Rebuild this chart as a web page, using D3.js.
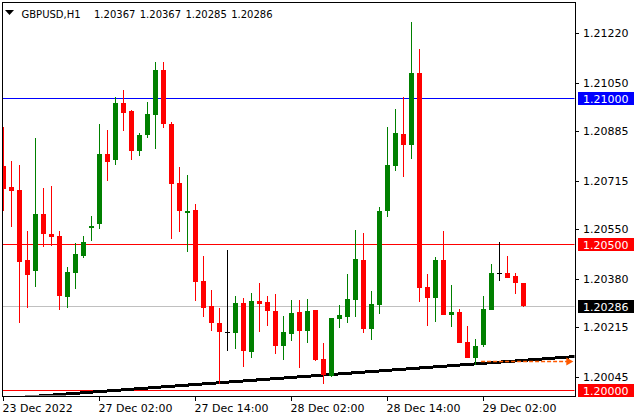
<!DOCTYPE html>
<html><head><meta charset="utf-8">
<script src="https://cdn.jsdelivr.net/npm/d3@7"></script>
<style>html,body{margin:0;padding:0;background:#fff;} svg{display:block;font-family:"DejaVu Sans",sans-serif;}</style>
</head><body><svg id="c" width="640" height="420"></svg>
<script>
const symbol = "GBPUSD,H1";
const quote = [1.20367, 1.20367, 1.20285, 1.20286];
const open = [1.20766,1.20695,1.20684,1.20444,1.20408,1.20602,1.20533,1.20526,1.20319,1.20401,
1.20459,1.20555,1.20569,1.20807,1.20788,1.20982,1.20954,1.20818,1.20873,1.20940,
1.21094,1.20910,1.20708,1.20605,1.20615,1.20373,1.20287,1.20229,1.20199,1.20196,
1.20297,1.20130,1.20304,1.20301,1.20270,1.20151,1.20192,1.20266,1.20202,1.20273,
1.20106,1.20048,1.20243,1.20250,1.20308,1.20444,1.20209,1.20291,1.20613,1.20767,
1.20875,1.20839,1.21084,1.20352,1.20315,1.20444,1.20257,1.20266,1.20164,1.20110,
1.20154,1.20274,1.20399,1.20400,1.20390,1.20367];
const close = [1.20688,1.20681,1.20438,1.20393,1.20602,1.20534,1.20524,1.20322,1.20403,1.20465,
1.20506,1.20561,1.20807,1.20781,1.20982,1.20948,1.20818,1.20872,1.20944,1.21094,
1.20911,1.20705,1.20613,1.20612,1.20370,1.20281,1.20230,1.20199,1.20199,1.20297,
1.20134,1.20304,1.20295,1.20271,1.20151,1.20198,1.20263,1.20202,1.20270,1.20103,
1.20052,1.20246,1.20256,1.20311,1.20448,1.20209,1.20294,1.20612,1.20769,1.20879,
1.20839,1.21084,1.20350,1.20315,1.20444,1.20257,1.20266,1.20161,1.20110,1.20150,
1.20277,1.20400,1.20399,1.20384,1.20367,1.20286];
const high = [1.20900,1.20784,1.20769,1.20544,1.20862,1.20691,1.20698,1.20544,1.20421,1.20501,
1.20526,1.20595,1.20910,1.20889,1.21001,1.21026,1.20958,1.20879,1.20985,1.21122,
1.21122,1.20917,1.20764,1.20735,1.20636,1.20458,1.20342,1.20281,1.20479,1.20321,
1.20315,1.20332,1.20367,1.20322,1.20329,1.20254,1.20308,1.20308,1.20312,1.20273,
1.20160,1.20246,1.20290,1.20397,1.20547,1.20537,1.20339,1.20626,1.20899,1.20961,
1.21001,1.21259,1.21166,1.20396,1.20455,1.20545,1.20359,1.20278,1.20220,1.20175,
1.20322,1.20431,1.20507,1.20459,1.20400,1.20367];
const low = [1.20613,1.20558,1.20228,1.20281,1.20353,1.20490,1.20493,1.20274,1.20281,1.20346,
1.20452,1.20510,1.20551,1.20716,1.20770,1.20887,1.20788,1.20801,1.20863,1.20824,
1.20897,1.20517,1.20541,1.20473,1.20305,1.20250,1.20202,1.20019,1.20134,1.20141,
1.20079,1.20110,1.20199,1.20220,1.20124,1.20103,1.20168,1.20076,1.20161,1.20100,
1.20019,1.20045,1.20213,1.20230,1.20250,1.20196,1.20172,1.20261,1.20592,1.20750,
1.20729,1.20791,1.20302,1.20220,1.20233,1.20257,1.20216,1.20161,1.20110,1.20086,
1.20148,1.20274,1.20373,1.20384,1.20329,1.20285];
const timeTickIndex = [0, 12, 24, 36, 48, 60];
const timeTickLabels = ["23 Dec 2022","27 Dec 02:00","27 Dec 14:00","28 Dec 02:00","28 Dec 14:00","29 Dec 02:00"];
const priceTicks = [1.21220,1.21050,1.20885,1.20715,1.20550,1.20380,1.20215,1.20045];
const levelPrices = [1.21000, 1.20500, 1.20286, 1.20000];
const levelKinds = ["blue","red","bid","red"];
const trendIndex = [0, 71.5];
const trendPrice = [1.19970, 1.20114];
const arrowIndex = [59.7, 71.1];
const arrowPrice = 1.20100;

const svg = d3.select("#c");
const L = 2, T = 2, R = 575, B = 396;
const x = d3.scaleLinear().domain([0, 65]).range([3.5, 523.5]);
const y = d3.scaleLinear().domain([1.21220, 1.20045]).range([33.3, 376.7]);

svg.append("defs").append("clipPath").attr("id","pc")
  .append("rect").attr("x",L+0.5).attr("y",T+0.5).attr("width",R-L-1).attr("height",B-T-1);

const plot = svg.append("g").attr("clip-path","url(#pc)");

const lineColor = {blue:"#0000ff", red:"#ff0000", bid:"#c0c0c0"};
const boxColor = {blue:"#0000ff", red:"#ff0000", bid:"#000000"};

// horizontal levels
plot.selectAll("line.lvl").data(levelPrices).join("line").attr("class","lvl")
  .attr("x1",L).attr("x2",R)
  .attr("y1",d=>Math.round(y(d))+0.5).attr("y2",d=>Math.round(y(d))+0.5)
  .attr("stroke",(d,i)=>lineColor[levelKinds[i]]).attr("stroke-width",1);

// trend line
plot.append("line")
  .attr("x1",x(trendIndex[0])).attr("y1",y(trendPrice[0]))
  .attr("x2",x(trendIndex[1])).attr("y2",y(trendPrice[1]))
  .attr("stroke","#000").attr("stroke-width",3).attr("shape-rendering","crispEdges");

// orange dashed arrow
const ay = Math.round(y(arrowPrice))+0.5;
plot.append("line").attr("x1",x(arrowIndex[0])).attr("x2",x(arrowIndex[1])-4)
  .attr("y1",ay).attr("y2",ay).attr("stroke","#ff5a00").attr("stroke-width",1.5)
  .attr("stroke-dasharray","4,2");
const ax = x(arrowIndex[1]);
plot.append("path").attr("d",`M${ax-6},${ay-4}L${ax+1},${ay}L${ax-6},${ay+4}Z`).attr("fill","#ff5a00");

// candles
const idx = d3.range(open.length);
const col = i => close[i] > open[i] ? "#008000" : (close[i] < open[i] ? "#ff0000" : "#000000");
const cg = plot.append("g").attr("shape-rendering","crispEdges");
cg.selectAll("line.wick").data(idx).join("line").attr("class","wick")
  .attr("x1",i=>x(i)).attr("x2",i=>x(i))
  .attr("y1",i=>y(high[i])).attr("y2",i=>y(low[i]))
  .attr("stroke",col).attr("stroke-width",1);
cg.selectAll("rect.body").data(idx).join("rect").attr("class","body")
  .attr("x",i=>x(i)-2.5).attr("width",5)
  .attr("y",i=>Math.min(y(open[i]),y(close[i])))
  .attr("height",i=>Math.max(1,Math.abs(y(open[i])-y(close[i]))))
  .attr("fill",col);

// frame
svg.append("rect").attr("x",L+0.5).attr("y",T+0.5).attr("width",R-L).attr("height",B-T)
  .attr("fill","none").attr("stroke","#000").attr("stroke-width",1).attr("shape-rendering","crispEdges");

// right axis
const ra = svg.append("g");
ra.selectAll("line").data(priceTicks).join("line")
  .attr("x1",R+0.5).attr("x2",R+4).attr("y1",d=>Math.round(y(d))+0.5).attr("y2",d=>Math.round(y(d))+0.5)
  .attr("stroke","#000").attr("shape-rendering","crispEdges");
ra.selectAll("text").data(priceTicks).join("text")
  .attr("x",583).attr("y",d=>y(d)+4).attr("font-size",11).attr("fill","#000")
  .text(d=>d.toFixed(5));

// level boxes
const lb = svg.append("g");
levelPrices.forEach((p,i)=>{
  const yy = Math.round(y(p));
  lb.append("rect").attr("x",578).attr("y",yy-6).attr("width",56).attr("height",13)
    .attr("fill",boxColor[levelKinds[i]]).attr("shape-rendering","crispEdges");
  lb.append("text").attr("x",583).attr("y",yy+4.5).attr("font-size",11).attr("fill","#fff").text(p.toFixed(5));
});

// bottom axis
const ba = svg.append("g");
timeTickIndex.forEach((t,i)=>{
  const xx = Math.floor(x(t))+0.5;
  ba.append("line").attr("x1",xx).attr("x2",xx).attr("y1",B).attr("y2",B+5)
    .attr("stroke","#000").attr("shape-rendering","crispEdges");
  ba.append("text").attr("x",x(t)-1).attr("y",411.5).attr("font-size",11).attr("fill","#000").text(timeTickLabels[i]);
});

// title
svg.append("path").attr("d","M5,10L14,10L9.5,15Z").attr("fill","#000");
svg.append("text").attr("x",21.5).attr("y",18).attr("font-size",10).attr("fill","#000").text(symbol);
svg.append("text").attr("x",94).attr("y",18).attr("font-size",10).attr("fill","#000")
  .attr("word-spacing","1.2").text(quote.map(d=>d.toFixed(5)).join(" "));
</script></body></html>
